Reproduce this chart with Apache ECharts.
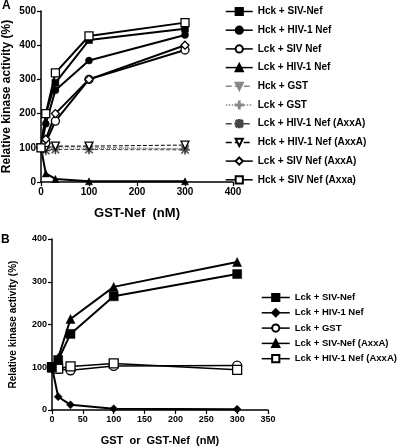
<!DOCTYPE html>
<html>
<head>
<meta charset="utf-8">
<script src="https://cdn.jsdelivr.net/npm/echarts@6/dist/echarts.min.js"></script>
<style>
html, body { margin: 0; padding: 0; background: #fff; }
#chart { width: 400px; height: 448px; }
</style>
</head>
<body>
<div id="chart"></div>
<script>
// panel A: GST-Nef concentration (nM)
var xA = [0, 10, 30, 100, 300];
var hckSiv = [100, 200, 290, 415, 448];
var hckHiv = [100, 170, 268, 355, 430];
var lckSiv = [100, 115, 178, 300, 386];
var lckHiv = [100, 25, 9, 2, 2];
var hckGst = [100, 100, 104, 102, 97];
var lckGst = [100, 98, 100, 98, 97];
var lckHivAxxa = [100, 92, 95, 95, 94];
var hckHivAxxa = [100, 100, 105, 105, 108];
var lckSivAxxa = [100, 125, 200, 300, 400];
var hckSivAxxa = [100, 200, 319, 427, 466];

// panel B: GST or GST-Nef (nM)
var xB = [0, 10, 30, 100, 300];
var bLckSiv = [100, 117, 178, 266, 318];
var bLckHiv = [100, 31, 12, 3, 2];
var bLckGst = [100, 96, 93, 103, 104];
var bLckSivAxxa = [100, 122, 213, 288, 346];
var bLckHivAxxa = [100, 97, 102, 109, 94];

var namesA = ['Hck + SIV-Nef', 'Hck + HIV-1 Nef', 'Lck + SIV Nef', 'Lck + HIV-1 Nef', 'Hck + GST', 'Lck + GST',
	'Lck + HIV-1 Nef (AxxA)', 'Hck + HIV-1 Nef (AxxA)', 'Lck + SIV Nef (AxxA)', 'Hck + SIV Nef (Axxa)'];
// B legend names (trailing space keeps them apart from the A names)
var namesB = ['Lck + SIV-Nef ', 'Lck + HIV-1 Nef ', 'Lck + GST ', 'Lck + SIV-Nef (AxxA) ', 'Lck + HIV-1 Nef (AxxA) '];

var plusPath = 'path://M4.4,0H5.6V4.4H10V5.6H5.6V10H4.4V5.6H0V4.4H4.4Z';
var starPath = 'path://M4.4,0H5.6V10H4.4Z M0,4.4H10V5.6H0Z M0.6,1.4L1.4,0.6L9.4,8.6L8.6,9.4Z M8.6,0.6L9.4,1.4L1.4,9.4L0.6,8.6Z';
var downTri = 'path://M0,0H10L5,9Z';

var font = 'Liberation Sans, Arial, sans-serif';

function pairs(xs, ys) {
	var out = [];
	for (var i = 0; i < xs.length; i++) {
		out.push([xs[i], ys[i]]);
	}
	return out;
}

function line(name, idx, xs, ys, symbol, size, color, lineType, width, empty) {
	return {
		name: name,
		type: 'line',
		xAxisIndex: idx,
		yAxisIndex: idx,
		data: pairs(xs, ys),
		symbol: symbol,
		symbolSize: size,
		showAllSymbol: true,
		animation: false,
		lineStyle: { color: color, width: width, type: lineType },
		itemStyle: empty ? { color: '#fff', borderColor: color, borderWidth: 1.3 } : { color: color, borderColor: color, borderWidth: 0.5 }
	};
}

var chart = echarts.init(document.getElementById('chart'));

var series = [
	line(namesA[4], 0, xA, hckGst, 'triangle', 8, '#888', 'dashed', 1, false),
	line(namesA[5], 0, xA, lckGst, plusPath, 8, '#888', 'dotted', 1, false),
	line(namesA[6], 0, xA, lckHivAxxa, starPath, 9, '#444', 'dashed', 1, false),
	line(namesA[7], 0, xA, hckHivAxxa, downTri, 8, '#000', 'dashed', 1, true),
	line(namesA[3], 0, xA, lckHiv, 'triangle', 7, '#000', 'solid', 2, false),
	line(namesA[2], 0, xA, lckSiv, 'circle', 8, '#000', 'solid', 2, true),
	line(namesA[8], 0, xA, lckSivAxxa, 'diamond', 8, '#000', 'solid', 2, true),
	line(namesA[1], 0, xA, hckHiv, 'circle', 7, '#000', 'solid', 2, false),
	line(namesA[0], 0, xA, hckSiv, 'rect', 7, '#000', 'solid', 2, false),
	line(namesA[9], 0, xA, hckSivAxxa, 'rect', 8, '#000', 'solid', 2, true),

	line(namesB[2], 1, xB, bLckGst, 'circle', 9, '#000', 'solid', 1.5, true),
	line(namesB[4], 1, xB, bLckHivAxxa, 'rect', 9, '#000', 'solid', 1.5, true),
	line(namesB[1], 1, xB, bLckHiv, 'diamond', 8, '#000', 'solid', 2, false),
	line(namesB[0], 1, xB, bLckSiv, 'rect', 9, '#000', 'solid', 2, false),
	line(namesB[3], 1, xB, bLckSivAxxa, 'triangle', 9, '#000', 'solid', 2, false)
];
// grey GST triangle points down
series[0].symbolRotate = 180;

function valueAxis(idx, min, max, interval, fs, name, gap, nameSize) {
	return {
		type: 'value',
		gridIndex: idx,
		min: min,
		max: max,
		interval: interval,
		name: name,
		nameLocation: 'middle',
		nameGap: gap,
		nameTextStyle: { fontFamily: font, fontWeight: 'bold', fontSize: nameSize, color: '#000' },
		splitLine: { show: false },
		axisLine: { show: true, lineStyle: { color: '#000', width: 1.5 } },
		axisTick: { show: true, length: 4, lineStyle: { color: '#000', width: 1.2 } },
		axisLabel: { fontFamily: font, fontWeight: 'bold', fontSize: fs, color: '#000', margin: 5 }
	};
}

var option = {
	backgroundColor: '#fff',
	animation: false,
	grid: [
		{ left: 40, top: 11, width: 193, height: 171 },
		{ left: 46, top: 239, width: 222, height: 171 }
	],
	xAxis: [
		valueAxis(0, 0, 400, 100, 10, 'GST-Nef  (nM)', 25, 13),
		valueAxis(1, 0, 350, 50, 9, 'GST  or  GST-Nef  (nM)', 25, 11)
	],
	yAxis: [
		valueAxis(0, 0, 500, 100, 10, 'Relative kinase activity (%)', 28, 12),
		valueAxis(1, 0, 400, 100, 9, 'Relative kinase activity (%)', 34, 10)
	],
	legend: [
		{
			orient: 'vertical',
			left: 220,
			top: 1.5,
			itemWidth: 27,
			itemHeight: 9,
			itemGap: 8.7,
			selectedMode: false,
			lineStyle: { width: 1.5 },
			textStyle: { fontFamily: font, fontWeight: 'bold', fontSize: 10, color: '#000' },
			data: namesA
		},
		{
			orient: 'vertical',
			left: 256,
			top: 287.5,
			itemWidth: 28,
			itemHeight: 9,
			itemGap: 5.3,
			selectedMode: false,
			lineStyle: { width: 1.5 },
			textStyle: { fontFamily: font, fontWeight: 'bold', fontSize: 9.5, color: '#000' },
			data: namesB
		}
	],
	graphic: [
		{ type: 'text', left: 2, top: 0, style: { text: 'A', font: 'bold 12px ' + font, fill: '#000' } },
		{ type: 'text', left: 1, top: 234, style: { text: 'B', font: 'bold 12px ' + font, fill: '#000' } }
	],
	series: series
};

chart.setOption(option);
</script>
</body>
</html>
